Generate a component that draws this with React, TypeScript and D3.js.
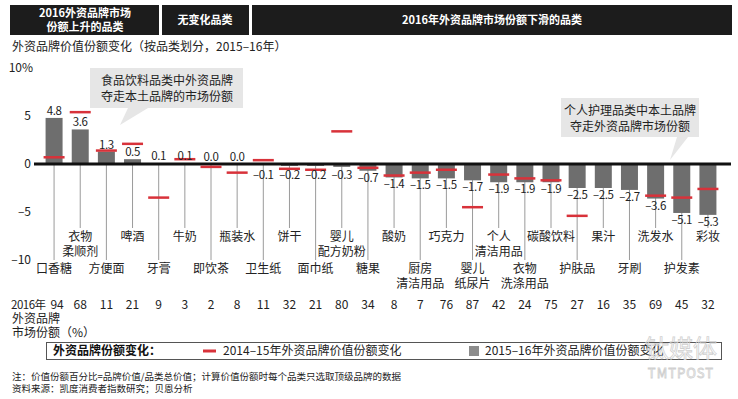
import React from 'react';
import * as d3 from 'd3';

const categories = [
  ['口香糖'], ['衣物', '柔顺剂'], ['方便面'], ['啤酒'], ['牙膏'], ['牛奶'], ['即饮茶'], ['瓶装水'],
  ['卫生纸'], ['饼干'], ['面巾纸'], ['婴儿', '配方奶粉'], ['糖果'], ['酸奶'], ['厨房', '清洁用品'],
  ['巧克力'], ['婴儿', '纸尿片'], ['个人', '清洁用品'], ['衣物', '洗涤用品'], ['碳酸饮料'], ['护肤品'],
  ['果汁'], ['牙刷'], ['洗发水'], ['护发素'], ['彩妆'],
];
const change1516 = [4.8, 3.6, 1.3, 0.5, 0.1, 0.1, 0.0, 0.0, -0.1, -0.2, -0.2, -0.3, -0.7, -1.4, -1.5, -1.5, -1.7, -1.9, -1.9, -1.9, -2.5, -2.5, -2.7, -3.6, -5.1, -5.3];
const change1415: (number | null)[] = [0.7, 5.4, 1.4, 2.1, -3.5, 0.5, -0.3, -0.9, 0.4, -0.5, -0.6, 3.4, -0.4, -1.2, -0.9, -0.6, -4.5, -1.1, -1.5, -1.7, -5.4, null, null, -3.3, -3.5, -2.6];
const share2016 = [94, 68, 11, 21, 9, 3, 2, 8, 11, 32, 21, 80, 34, 8, 7, 76, 87, 42, 24, 75, 27, 16, 35, 69, 45, 32];
const yTicks = [10, 5, 0, -5, -10];

const FONT = '"Noto Sans CJK SC", "Noto Sans", sans-serif';
const RED = '#d8323a';
const BAR = '#6e6e6e';

const fmt = (v: number) => (v < 0 ? '–' + Math.abs(v).toFixed(1) : v.toFixed(1));

export default function App() {
  const W = 738, H = 399;
  const keys = categories.map((c) => c.join(''));
  const x = d3.scaleBand<string>().domain(keys).range([41, 721]).padding(0);
  const cx = (i: number) => (x(keys[i]) as number) + x.bandwidth() / 2;
  const bw = 17;
  const rw = 21;
  const y = d3.scaleLinear().domain([-10, 10]).range([260, 68]);
  const y0 = y(0);

  return (
    <svg width={W} height={H} style={{ position: 'absolute', left: 0, top: 0, background: '#fff' }} fontFamily={FONT}>
      {/* header boxes */}
      <rect x={10} y={5} width={149} height={30} fill="#1c1c1c" />
      <rect x={162} y={5} width={87} height={30} fill="#1c1c1c" />
      <rect x={252} y={5} width={480} height={30} fill="#1c1c1c" />
      <g fill="#fff" fontWeight="bold" fontSize={11} textAnchor="middle">
        <text x={85} y={17}>2016外资品牌市场</text>
        <text x={85} y={31}>份额上升的品类</text>
        <text x={205} y={24}>无变化品类</text>
        <text x={492} y={24}>2016年外资品牌市场份额下滑的品类</text>
      </g>
      <text x={12} y={51} fontSize={12} fill="#222">外资品牌价值份额变化（按品类划分，2015–16年）</text>

      {/* callouts */}
      <path d="M90,68 H243 V108 H148 L120,125 L128,108 H90 Z" fill="#e6e6e6" />
      <g fontSize={12} fill="#222" textAnchor="middle">
        <text x={167} y={85}>食品饮料品类中外资品牌</text>
        <text x={167} y={101}>夺走本土品牌的市场份额</text>
      </g>
      <path d="M561,98 H699 V137 H688 L670,160 L677,137 H561 Z" fill="#e6e6e6" />
      <g fontSize={12} fill="#222" textAnchor="middle">
        <text x={630} y={115}>个人护理品类中本土品牌</text>
        <text x={630} y={131}>夺走外资品牌市场份额</text>
      </g>

      {/* y axis labels */}
      <g fontSize={12} fill="#222" textAnchor="end">
        {yTicks.map((t) => (
          <text key={t} x={t === 10 ? 33 : 31} y={y(t) + 4}>{t === 10 ? '10%' : t < 0 ? '–' + Math.abs(t) : t}</text>
        ))}
      </g>

      {/* leader lines */}
      {keys.map((k, i) => (
        <line key={k} x1={cx(i)} x2={cx(i)} y1={y0} y2={i % 2 === 0 ? 260 : 228} stroke="#9a9a9a" strokeWidth={1} />
      ))}

      {/* bars */}
      {change1516.map((v, i) => (
        <rect key={i} x={cx(i) - bw / 2} y={Math.min(y(v), y0)} width={bw} height={Math.abs(y(v) - y0)} fill={BAR} />
      ))}

      {/* axis line */}
      <line x1={34} x2={731} y1={y0} y2={y0} stroke="#111" strokeWidth={3} />

      {/* 2014-15 markers */}
      {change1415.map((v, i) =>
        v === null ? null : (
          <line key={i} x1={cx(i) - rw / 2} x2={cx(i) + rw / 2} y1={y(v)} y2={y(v)} stroke={RED} strokeWidth={2.5} />
        )
      )}

      {/* value labels */}
      <g fontSize={11.5} fill="#222" textAnchor="middle" letterSpacing={-0.4}>
        {change1516.map((v, i) => {
          const ty = v >= 0 ? y(v) - 3 : Math.max(y(v) + 7, 175) + 4;
          return <text key={i} x={cx(i)} y={ty}>{fmt(v)}</text>;
        })}
      </g>

      {/* category labels */}
      <g fontSize={12} fill="#222" textAnchor="middle">
        {categories.map((c, i) => {
          const base = i % 2 === 0 ? 273 : 241;
          return c.map((line, j) => (
            <text key={i + '-' + j} x={cx(i)} y={base + j * 15}>{line}</text>
          ));
        })}
      </g>

      {/* share row */}
      <g fontSize={12} fill="#222">
        <text x={11} y={309} fontSize={11.5} letterSpacing={-0.5}>2016年</text>
        <text x={12} y={323}>外资品牌</text>
        <text x={12} y={337}>市场份额（%）</text>
        {share2016.map((s, i) => (
          <text key={i} x={cx(i) + (i === 0 ? 3 : 0)} y={309} textAnchor="middle">{s}</text>
        ))}
      </g>

      {/* legend */}
      <rect x={46.5} y={342.5} width={675} height={17} fill="#fff" stroke="#555" strokeWidth={1} />
      <text x={53} y={355} fontSize={12} fontWeight="bold" fill="#111">外资品牌份额变化：</text>
      <line x1={203} x2={216} y1={351} y2={351} stroke={RED} strokeWidth={3} />
      <text x={223} y={355} fontSize={12} fill="#222">2014–15年外资品牌价值份额变化</text>
      <rect x={469} y={346} width={10} height={10} fill="#8c8c8c" />
      <text x={485} y={355} fontSize={12} fill="#222">2015–16年外资品牌价值份额变化</text>

      {/* notes */}
      <g fontSize={9.5} fill="#222">
        <text x={12} y={380}>注：价值份额百分比=品牌价值/品类总价值；计算价值份额时每个品类只选取顶级品牌的数据</text>
        <text x={12} y={392}>资料来源：凯度消费者指数研究；贝恩分析</text>
      </g>

      {/* watermark */}
      <g fill="none" stroke="#d0d0d0" strokeWidth={0.8} textAnchor="middle">
        <text x={681} y={357} fontSize={24}>钛媒体</text>
        <text x={681} y={378} fontSize={13} letterSpacing={1}>TMTPOST</text>
      </g>
    </svg>
  );
}
